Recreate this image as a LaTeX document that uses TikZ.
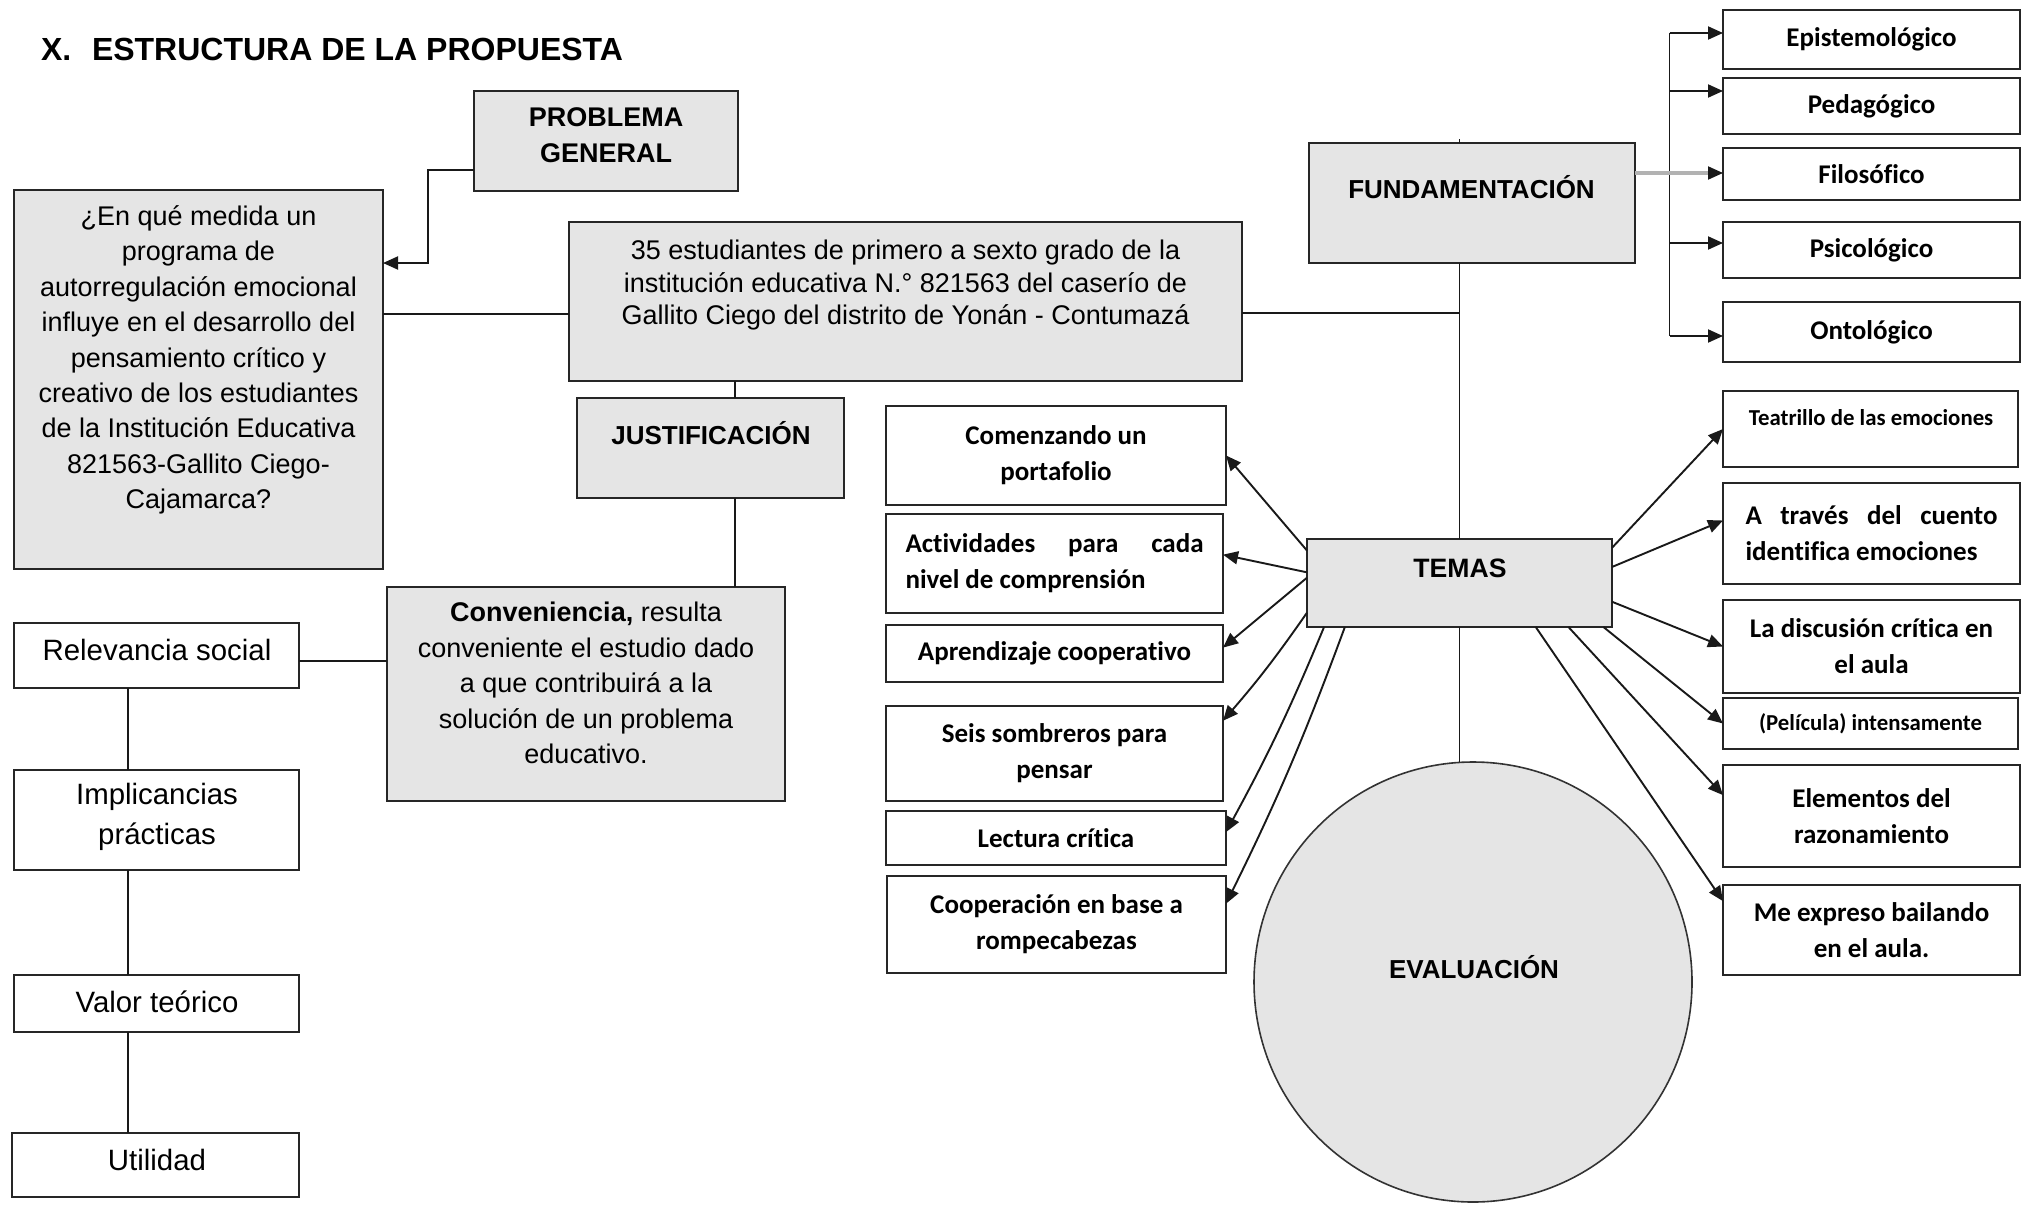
\documentclass[tikz,border=0pt]{standalone}
\usepackage{fontspec}
\setmainfont{Liberation Sans}
\newfontfamily\calfont[Ligatures=NoCommon]{Carlito}
\usetikzlibrary{arrows.meta,shapes.geometric,calc}

\begin{document}
\begin{tikzpicture}[x=0.5pt,y=-0.5pt,
  every node/.style={inner sep=0pt, outer sep=0pt},
  gbox/.style={draw=black!85, line width=1pt, fill=gray!20, rectangle},
  wbox/.style={draw=black!85, line width=1pt, fill=white, rectangle},
  sz/.style 2 args={minimum width=#1*0.5pt, minimum height=#2*0.5pt},
  con/.style={line width=0.95pt, draw=black!90},
  arr/.style={con, -{Triangle[length=7.5pt,width=6.5pt]}},
  ar/.style={font=\fontsize{13.5}{17.7}\selectfont, align=center},
  arb/.style={font=\fontsize{13.5}{18}\selectfont\bfseries, align=center},
  lc/.style={font=\fontsize{14.7}{20}\selectfont, align=center},
  cb/.style={font=\calfont\bfseries\fontsize{13.5}{18}\selectfont, align=center},
  cbs/.style={font=\calfont\bfseries\fontsize{11.4}{14}\selectfont, align=center},
]
\fill[white] (0,0) rectangle (2027,1204);
\useasboundingbox (0,0) rectangle (2027,1204);

% title
\node[anchor=base west, font=\fontsize{16}{19}\selectfont\bfseries] (title) at (41,61) {X.\hspace{0.65em}ESTRUCTURA DE LA PROPUESTA};

% left / centre grey boxes
\node[gbox, sz={264}{100}] (pg) at (606,141) {};
\node[arb] (pgt) at (606,135) {PROBLEMA\\GENERAL};

\node[gbox, sz={369}{379}] (q) at (198.5,379.5) {};
\node[ar] (qt) at (198.5,360) {¿En qué medida un\\programa de\\autorregulación emocional\\influye en el desarrollo del\\pensamiento crítico y\\creativo de los estudiantes\\de la Institución Educativa\\821563-Gallito Ciego-\\Cajamarca?};

\node[gbox, sz={673}{159}] (est) at (905.5,301.5) {};
\node[font=\fontsize{13.5}{16.25}\selectfont, align=center] (estt) at (905.5,285.5) {35 estudiantes de primero a sexto grado de la\\institución educativa N.° 821563 del caserío de\\Gallito Ciego del distrito de Yonán - Contumazá};

\node[gbox, sz={267}{100}] (just) at (710.5,448) {};
\node[font=\fontsize{13}{16}\selectfont\bfseries] (justt) at (711,433) {JUSTIFICACIÓN};

\node[gbox, sz={398}{214}] (conv) at (586,694) {};
\node[ar] (convt) at (586,683) {\textbf{Conveniencia,} resulta\\conveniente el estudio dado\\a que contribuirá a la\\solución de un problema\\educativo.};

% left column
\node[wbox, sz={285}{65}] (rel) at (156.5,655.5) {};
\node[lc] (relt) at (157,650) {Relevancia social};
\node[wbox, sz={285}{100}] (impl) at (156.5,820) {};
\node[lc] (implt) at (157,817) {Implicancias\\prácticas};
\node[wbox, sz={285}{57}] (val) at (156.5,1003.5) {};
\node[lc] (valt) at (157,1002) {Valor teórico};
\node[wbox, sz={287}{64}] (util) at (155.5,1165) {};
\node[lc] (utilt) at (157,1160) {Utilidad};

% fundamentacion
\node[gbox, sz={326}{120}] (fund) at (1472,203) {};
\node[font=\fontsize{13}{16}\selectfont\bfseries] (fundt) at (1471.5,187) {FUNDAMENTACIÓN};

\node[wbox, sz={297}{59}, cb] (epi) at (1871.5,39.5) {Epistemológico};
\node[wbox, sz={297}{56}, cb] (ped) at (1871.5,106) {Pedagógico};
\node[wbox, sz={297}{52}, cb] (fil) at (1871.5,174) {Filosófico};
\node[wbox, sz={297}{56}, cb] (psi) at (1871.5,250) {Psicológico};
\node[wbox, sz={297}{60}, cb] (ont) at (1871.5,332) {Ontológico};

\coordinate (h1) at (1669.5,33);
\coordinate (h2) at (1669.5,91);
\coordinate (h3) at (1669.5,173);
\coordinate (h4) at (1669.5,243);
\coordinate (h5) at (1669.5,336);
\draw[con] (h1) -- (h5);
\draw[arr] (h1) -- (h1 -| epi.west);
\draw[arr] (h2) -- (h2 -| ped.west);
\draw[arr] (h4) -- (h4 -| psi.west);
\draw[arr] (h5) -- (h5 -| ont.west);
\draw[arr] (fund.east |- h3) -- (h3 -| fil.west);
\draw[gray!60, line width=1.6pt] (fund.east |- h3) -- ($(h3 -| fil.west)+(-15,0)$);

% temas
\node[gbox, sz={305}{88}] (temas) at (1459.5,583) {};
\node[font=\fontsize{13.3}{16}\selectfont\bfseries] (temast) at (1460,568) {TEMAS};

% evaluacion
\node[ellipse, draw=black!80, line width=0.8pt, fill=gray!20, minimum width=438*0.5pt, minimum height=440*0.5pt] (eval) at (1473,982) {};
\node[font=\fontsize{13}{16}\selectfont\bfseries] (evalt) at (1474,967) {EVALUACIÓN};

% central spine
\coordinate (c4) at (1460,313);
\draw[con] (temas.north |- fund.south) -- (temas.north);
\draw[con] (temas.north |- fund.north) -- ++(0,-4);
\draw[con] (est.east |- c4) -- (c4);
\draw[con] (temas.south) -- (temas.south |- eval.north);

% left temas boxes
\node[wbox, sz={340}{99}, cb] (t1) at (1056,455.5) {Comenzando un\\portafolio};
\node[wbox, sz={337}{99}, cb] (t2) at (1054.5,563.5) {\makebox[149pt][s]{Actividades para cada}\\\makebox[149pt][l]{nivel de comprensión}};
\node[wbox, sz={337}{57}, cb] (t3) at (1054.5,653.5) {Aprendizaje cooperativo};
\node[wbox, sz={337}{95}, cb] (t4) at (1054.5,753.5) {Seis sombreros para\\pensar};
\node[wbox, sz={340}{54}, cb] (t5) at (1056,838) {Lectura crítica};
\node[wbox, sz={339}{97}, cb] (t6) at (1056.5,924.5) {Cooperación en base a\\rompecabezas};

% right temas boxes
\node[wbox, sz={295}{76}] (r1) at (1870.5,429) {};
\node[cbs] (r1t) at (1871,418) {Teatrillo de las emociones};
\node[wbox, sz={297}{101}, cb] (r2) at (1871.5,533.5) {\makebox[126pt][s]{A través del cuento}\\\makebox[126pt][l]{identifica emociones}};
\node[wbox, sz={297}{93}, cb] (r3) at (1871.5,646.5) {La discusión crítica en\\el aula};
\node[wbox, sz={295}{51}, cbs] (r4) at (1870.5,723.5) {(Película) intensamente};
\node[wbox, sz={297}{102}, cb] (r5) at (1871.5,816) {Elementos del\\razonamiento};
\node[wbox, sz={297}{90}, cb] (r6) at (1871.5,930) {Me expreso bailando\\en el aula.};

% temas arrows
\draw[arr] (temas.168) -- (t1.east);
\draw[arr] (temas.176) -- (t2.3);
\draw[arr] (temas.178) -- (t3.2);
\draw[arr] (temas.191) to[bend left=3] (t4.11);
\draw[arr] (temas.198) to[bend left=3] (t5.2);
\draw[arr] (temas.201) to[bend left=3] (t6.7);
\draw[arr] (temas.13) -- (r1.west);
\draw[arr] (temas.6) -- (r2.175);
\draw[arr] (temas.353) -- (r3.west);
\draw[arr] (temas.343) -- (r4.west);
\draw[arr] (temas.338) -- (r5.172);
\draw[arr] (temas.330) -- (r6.169);

% left connectors
\coordinate (c1) at (428,170);
\coordinate (c2) at (428,263);
\draw[arr] (c1 -| pg.west) -- (c1) -- (c2) -- (c2 -| q.east);
\coordinate (c3) at (0,314);
\draw[con] (q.east |- c3) -- (est.west |- c3);
\coordinate (c5) at (735,0);
\draw[con] (c5 |- est.south) -- (c5 |- just.north);
\draw[con] (c5 |- just.south) -- (c5 |- conv.north);
\coordinate (c6) at (0,661);
\draw[con] (rel.east |- c6) -- (conv.west |- c6);
\coordinate (c7) at (128,0);
\draw[con] (c7 |- rel.south) -- (c7 |- impl.north);
\draw[con] (c7 |- impl.south) -- (c7 |- val.north);
\draw[con] (c7 |- val.south) -- (c7 |- util.north);
\end{tikzpicture}
\end{document}
